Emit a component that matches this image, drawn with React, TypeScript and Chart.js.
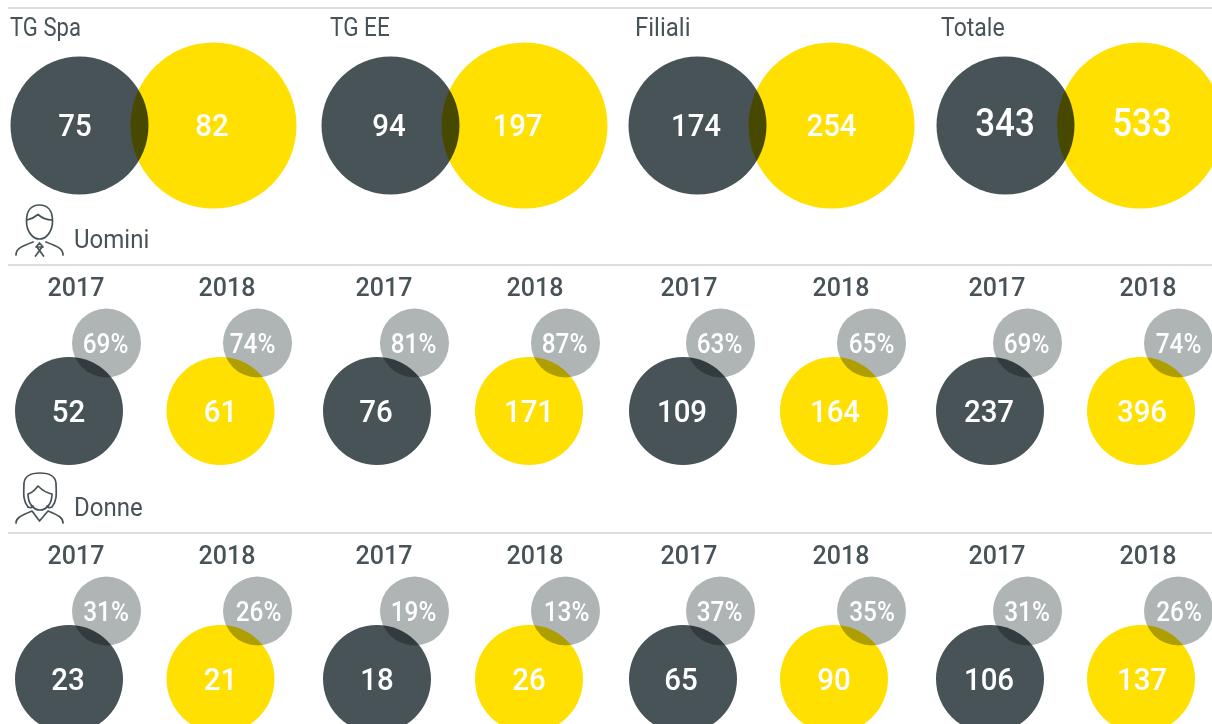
import React, { useEffect, useRef } from "react";
import { Chart, registerables } from "chart.js";

Chart.register(...registerables);

// ---- values
const panels = ["TG Spa", "TG EE", "Filiali", "Totale"];
const years = ["2017", "2018"];
const groups = ["Uomini", "Donne"];
const totals2017 = [75, 94, 174, 343];
const totals2018 = [82, 197, 254, 533];
const men2017 = [52, 76, 109, 237];
const men2018 = [61, 171, 164, 396];
const menShare2017 = [69, 81, 63, 69];
const menShare2018 = [74, 87, 65, 74];
const women2017 = [23, 18, 65, 106];
const women2018 = [21, 26, 90, 137];
const womenShare2017 = [31, 19, 37, 31];
const womenShare2018 = [26, 13, 35, 26];

// ---- layout (separate from the values)
const W = 1212;
const H = 724;
const topDarkX = [79.5, 390.5, 697.5, 1005.5];
const topYellowX = [213.5, 524.5, 831.5, 1140];
const darkX = [69, 377, 683, 990];
const yellowX = [220.5, 529, 834, 1141];
const shareDarkX = [106.5, 414.5, 720.5, 1027.5];
const shareYellowX = [257.5, 565.5, 871.5, 1178.5];
const yearDarkX = [76, 384, 689, 997];
const yearYellowX = [227, 535, 841, 1148];
const panelTitleX = [10, 330, 635, 941];
const panelTitleScale = [0.92, 0.94, 1, 0.96];
const ruleY = [8, 265, 533];
const topSizes = [32, 32, 32, 38];
const topDy = [-1, -1, -1, -2.5];
const rowDy = [-0.5, -0.5, -0.5, -0.5];
const DARK = "#485357";
const YELLOW = "#FFE000";
const GREY = "#AFB4B5";
const RULE = "#D0D2D2";
const FONT = "Roboto, sans-serif";

type Pt = { x: number; y: number; r: number; v: number };
const bubbles = (vals: number[], xs: number[], y: number, r: number): Pt[] =>
  vals.map((v, i) => ({ x: xs[i], y, r, v }));

const bubbleSet = (
  data: Pt[],
  color: string,
  size: number | number[],
  sx: number,
  dx: number[],
  suffix = "",
  dy: number[] = [0, 0, 0, 0]
) => ({
  type: "bubble" as const,
  data,
  backgroundColor: color,
  borderWidth: 0,
  hoverBorderWidth: 0,
  labelSize: size,
  labelScale: sx,
  labelDx: dx,
  labelDy: dy,
  labelSuffix: suffix,
});

const ruleSet = (y: number) => ({
  type: "line" as const,
  data: [
    { x: 8, y },
    { x: W, y },
  ],
  borderColor: RULE,
  borderWidth: 1.5,
  pointRadius: 0,
});

function text(
  ctx: CanvasRenderingContext2D,
  s: string,
  x: number,
  y: number,
  font: string,
  size: number,
  color: string,
  align: CanvasTextAlign,
  sx = 1
) {
  ctx.save();
  ctx.font = `${font} ${size}px ${FONT}`;
  ctx.fillStyle = color;
  ctx.textAlign = align;
  ctx.textBaseline = "alphabetic";
  ctx.translate(x, y);
  ctx.scale(sx, 1);
  ctx.fillText(s, 0, 0);
  ctx.restore();
}

const manIcon = [
  "M26.5 221 C26.5 210 32 205 39.5 205 C47 205 52.5 210 52.5 221 C52.5 232 46 239 39.5 239 C33 239 26.5 232 26.5 221 Z",
  "M27 220 C31 219 35 217 38 214.5 C42 218 47 220 52 220",
  "M16 255 C16 249 20 247 33 242",
  "M63 255 C63 249 59 247 46 242",
  "M39.5 243 L36 247 L43 247 Z",
  "M37 247 L43.5 256 M42 247 L35.5 256",
];
const womanIcon = [
  "M28 507 C22 500 24 490 24 483 C25 475 32 473 40 473 C48 473 55 475 56 483 C56 490 58 500 52 507 C50 508 48 508 47 506",
  "M28 507 C30 508 32 508 33 506",
  "M28 494 C28 503 33 510 40 510 C47 510 52 503 52 494 C46 493 42 490 38 486 C35 490 32 493 28 494",
  "M16 523 C16 518 20 516 32 511 L39.5 521 L48 511 C60 516 63 518 63 523",
];

const overlay = {
  id: "overlay",
  beforeDatasetsDraw(chart: Chart) {
    chart.ctx.save();
    chart.ctx.globalCompositeOperation = "multiply";
  },
  afterDatasetsDraw(chart: Chart) {
    const ctx = chart.ctx;
    ctx.restore();
    const sx = chart.scales.x;
    const sy = chart.scales.y;

    chart.data.datasets.forEach((ds: any, i: number) => {
      if (ds.type !== "bubble") return;
      chart.getDatasetMeta(i).data.forEach((el: any, j: number) => {
        const pt = ds.data[j] as Pt;
        const size = Array.isArray(ds.labelSize) ? ds.labelSize[j] : ds.labelSize;
        text(
          ctx,
          `${pt.v}${ds.labelSuffix}`,
          el.x + ds.labelDx[j],
          el.y + ds.labelDy[j] + 0.355 * size,
          "500",
          size,
          "#FFFFFF",
          "center",
          ds.labelScale
        );
      });
    });

    panels.forEach((p, i) =>
      text(ctx, p, sx.getPixelForValue(panelTitleX[i]), sy.getPixelForValue(36), "400", 25, DARK, "left", panelTitleScale[i] * 0.96)
    );
    text(ctx, groups[0], sx.getPixelForValue(74), sy.getPixelForValue(248), "400", 25, DARK, "left", 0.96);
    text(ctx, groups[1], sx.getPixelForValue(74), sy.getPixelForValue(516), "400", 25, DARK, "left", 0.96);

    [296, 564].forEach((base) => {
      yearDarkX.forEach((x) =>
        text(ctx, years[0], sx.getPixelForValue(x), sy.getPixelForValue(base), "500", 25, DARK, "center", 1)
      );
      yearYellowX.forEach((x) =>
        text(ctx, years[1], sx.getPixelForValue(x), sy.getPixelForValue(base), "500", 25, DARK, "center", 1)
      );
    });

    ctx.save();
    ctx.strokeStyle = DARK;
    ctx.lineWidth = 1.7;
    ctx.lineJoin = "round";
    ctx.lineCap = "round";
    [...manIcon, ...womanIcon].forEach((d) => ctx.stroke(new Path2D(d)));
    ctx.restore();
  },
};

export default function App() {
  const ref = useRef<HTMLCanvasElement>(null);

  useEffect(() => {
    if (!ref.current) return;
    const chart = new Chart(ref.current, {
      data: {
        datasets: [
          ...ruleY.map(ruleSet),
          bubbleSet(bubbles(totals2017, topDarkX, 125.5, 69), DARK, topSizes, 0.92, [-4.5, -1.5, -1.5, -0.5], "", topDy),
          bubbleSet(bubbles(totals2018, topYellowX, 125.5, 83), YELLOW, topSizes, 0.92, [-1.5, -7, 0, 2], "", topDy),
          bubbleSet(bubbles(menShare2017, shareDarkX, 343, 34.5), GREY, 28, 0.87, [-1, -1, -1, -1], "%"),
          bubbleSet(bubbles(menShare2018, shareYellowX, 343, 34.5), GREY, 28, 0.87, [-5, -1, 0, 0], "%"),
          bubbleSet(bubbles(men2017, darkX, 411, 54), DARK, 32, 0.92, [-0.5, -1, -1, -1], "", rowDy),
          bubbleSet(bubbles(men2018, yellowX, 411, 54), YELLOW, 32, 0.92, [0, 0, 1, 1], "", rowDy),
          bubbleSet(bubbles(womenShare2017, shareDarkX, 611, 34.5), GREY, 28, 0.87, [-0.5, -1, -1, -0.5], "%"),
          bubbleSet(bubbles(womenShare2018, shareYellowX, 611, 34.5), GREY, 28, 0.87, [1, 1, 0.5, 0.5], "%"),
          bubbleSet(bubbles(women2017, darkX, 679, 54), DARK, 32, 0.92, [-1, 0, -2, -1], "", rowDy),
          bubbleSet(bubbles(women2018, yellowX, 679, 54), YELLOW, 32, 0.92, [0, 0, 0, 1], "", rowDy),
        ] as any,
      },
      options: {
        animation: false,
        responsive: false,
        maintainAspectRatio: false,
        events: [],
        layout: { padding: 0, autoPadding: false },
        plugins: { legend: { display: false }, tooltip: { enabled: false }, title: { display: false } },
        scales: {
          x: { type: "linear", display: false, min: 0, max: W },
          y: { type: "linear", display: false, min: 0, max: H, reverse: true },
        },
      } as any,
      plugins: [overlay],
    });
    return () => chart.destroy();
  }, []);

  return (
    <div style={{ position: "fixed", left: 0, top: 0, width: W, height: H, overflow: "hidden", background: "#fff" }}>
      <canvas ref={ref} width={W} height={H} style={{ display: "block" }} />
    </div>
  );
}
